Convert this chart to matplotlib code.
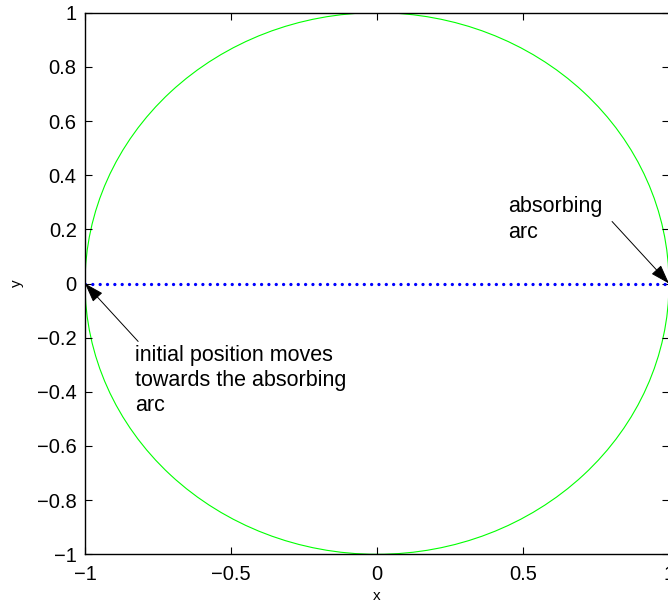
import matplotlib.pyplot as plt
from matplotlib.patches import Circle

plt.rcParams['font.family'] = ['Liberation Sans', 'DejaVu Sans']

# unit circle boundary and the straight path along y = 0
circle_center = (0.0, 0.0)
circle_radius = 1.0
path_x = [-1.0, 1.0]
path_y = [0.0, 0.0]

x_ticks = [-1, -0.5, 0, 0.5, 1]
x_tick_labels = ['\u22121', '\u22120.5', '0', '0.5', '1']
y_ticks = [-1, -0.8, -0.6, -0.4, -0.2, 0, 0.2, 0.4, 0.6, 0.8, 1]
y_tick_labels = ['\u22121', '\u22120.8', '\u22120.6', '\u22120.4', '\u22120.2',
                 '0', '0.2', '0.4', '0.6', '0.8', '1']

# annotation text, text anchor and arrow target
absorb_text = 'absorbing\narc'
absorb_xy = (1.0, 0.0)
absorb_text_xy = (0.449, 0.236)
absorb_tail = (0.805, 0.229)
start_text = 'initial position moves\ntowards the absorbing\narc'
start_xy = (-1.0, 0.0)
start_text_xy = (-0.829, -0.358)
start_tail = (-0.818, -0.214)

fig = plt.figure(figsize=(6.68, 6.07), dpi=100)
ax = fig.add_axes([85 / 668, 52.7 / 607, 584 / 668, 541.6 / 607])

ax.add_patch(Circle(circle_center, circle_radius, fill=False,
                    edgecolor='#00ff00', lw=0.8))
ax.plot(path_x, path_y, color='#0000ff', lw=2.4,
        linestyle=(0, (0.001, 2.2)), dash_capstyle='round')

arrow_style = dict(arrowstyle='-|>,head_length=0.6,head_width=0.2',
                   color='k', lw=0.7, mutation_scale=20,
                   shrinkA=0, shrinkB=0)
ax.annotate('', xy=absorb_xy, xytext=absorb_tail, arrowprops=arrow_style,
            annotation_clip=False)
ax.annotate('', xy=start_xy, xytext=start_tail, arrowprops=arrow_style,
            annotation_clip=False)
ax.text(*absorb_text_xy, absorb_text, fontsize=15.5, ha='left', va='center',
        linespacing=1.27)
ax.text(*start_text_xy, start_text, fontsize=15.5, ha='left', va='center',
        linespacing=1.27)

ax.set_xlim(-1, 1)
ax.set_ylim(-1, 1)
ax.set_xticks(x_ticks)
ax.set_xticklabels(x_tick_labels)
ax.set_yticks(y_ticks)
ax.set_yticklabels(y_tick_labels)
ax.tick_params(direction='in', length=5, width=0.8, labelsize=14.5,
               top=True, right=True, pad=6)
ax.tick_params(axis='x', pad=8)
for s in ax.spines.values():
    s.set_linewidth(1.0)

ax.set_xlabel('x', fontsize=11, labelpad=3)
ax.set_ylabel('y', fontsize=11, labelpad=9)

fig.savefig('out.png', dpi=100)
